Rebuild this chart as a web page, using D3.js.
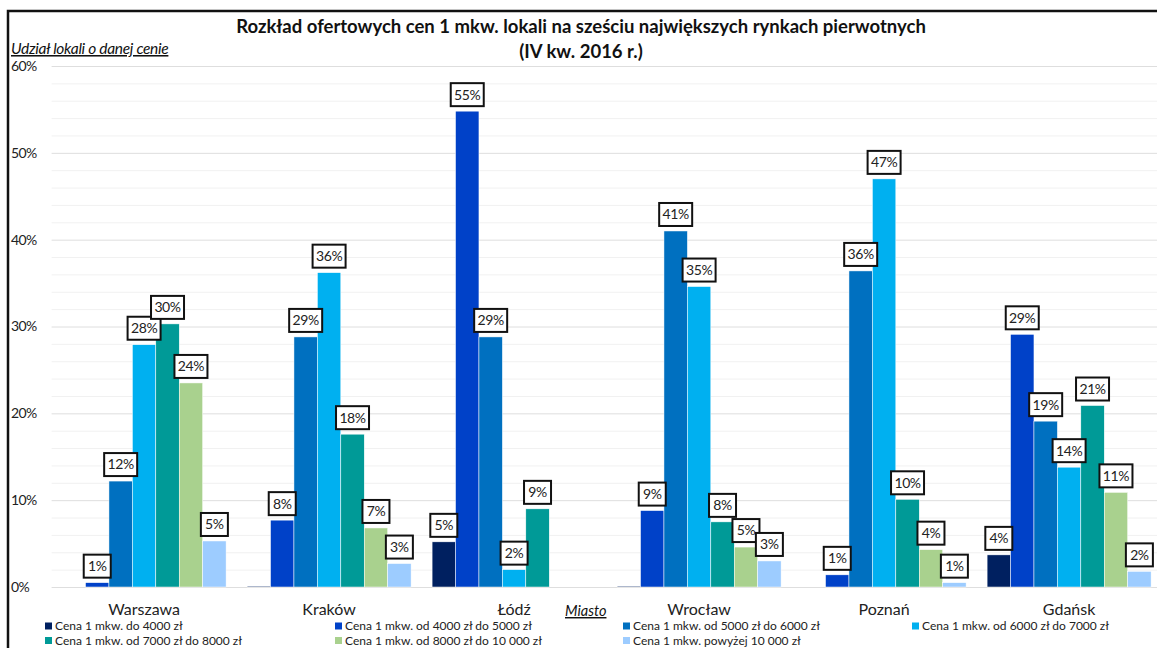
<!DOCTYPE html>
<html>
<head>
<meta charset="utf-8">
<script src="https://cdn.jsdelivr.net/npm/d3@7"></script>
<style>
  body { margin: 0; background: #fff; }
  svg { display: block; font-family: Lato, "Noto Sans", sans-serif; }
  .grid-minor line { stroke: #f1f1f1; }
  .grid-major line { stroke: #dedede; }
  .grid-minor path, .grid-major path { display: none; }
</style>
</head>
<body>
<svg id="chart" width="1157" height="648"></svg>
<script>
// data (percent)
const cities = ["Warszawa", "Kraków", "Łódź", "Wrocław", "Poznań", "Gdańsk"];
const seriesNames = [
  "Cena 1 mkw. do 4000 zł",
  "Cena 1 mkw. od 4000 zł do 5000 zł",
  "Cena 1 mkw. od 5000 zł do 6000 zł",
  "Cena 1 mkw. od 6000 zł do 7000 zł",
  "Cena 1 mkw. od 7000 zł do 8000 zł",
  "Cena 1 mkw. od 8000 zł do 10 000 zł",
  "Cena 1 mkw. powyżej 10 000 zł"
];
const colors = ["#002060", "#0041C8", "#0070C0", "#00B0F0", "#009A97", "#A9D18E", "#9DCCFF"];
// one array per city, in series order
const warszawa = [0, 0.5, 12.2, 27.9, 30.3, 23.5, 5.3];
const krakow   = [0.1, 7.7, 28.8, 36.2, 17.6, 6.8, 2.7];
const lodz     = [5.2, 54.8, 28.8, 2.0, 9.0, 0, 0];
const wroclaw  = [0.1, 8.8, 41.0, 34.6, 7.5, 4.6, 3.0];
const poznan   = [0, 1.4, 36.4, 47.0, 10.1, 4.3, 0.5];
const gdansk   = [3.7, 29.1, 19.1, 13.8, 20.9, 10.9, 1.8];
const cityValues = [warszawa, krakow, lodz, wroclaw, poznan, gdansk];
const yTicks = [0, 10, 20, 30, 40, 50, 60];

const svg = d3.select("#chart");

const x0 = 51.6, x1 = 1161.6, yBottom = 587, yTop = 66;

const xScale = d3.scaleBand()
  .domain(cities)
  .range([x0, x1])
  .paddingInner(0.1135)
  .paddingOuter(0.0567);

const xInner = d3.scaleBand()
  .domain(d3.range(seriesNames.length))
  .range([0, xScale.bandwidth()]);

const yScale = d3.scaleLinear()
  .domain([0, 60])
  .range([yBottom, yTop]);

// frame
svg.append("path")
  .attr("d", `M8,${648} L8,11 L1157,11`)
  .attr("fill", "none")
  .attr("stroke", "#111")
  .attr("stroke-width", 2.5);

// gridlines
svg.append("g")
  .attr("class", "grid-minor")
  .call(d3.axisLeft(yScale).tickValues(d3.range(2, 60, 2).filter(v => v % 10 !== 0))
    .tickSize(-(1157 - x0)).tickFormat(""))
  .attr("transform", `translate(${x0},0)`);

svg.append("g")
  .attr("class", "grid-major")
  .call(d3.axisLeft(yScale).tickValues(yTicks).tickSize(-(1157 - x0)).tickFormat(""))
  .attr("transform", `translate(${x0},0)`);

// y tick labels
svg.append("g").selectAll("text")
  .data(yTicks)
  .join("text")
  .attr("x", 11)
  .attr("y", d => yScale(d))
  .attr("dy", "0.35em")
  .attr("font-size", 14)
  .attr("letter-spacing", -0.6)
  .attr("fill", "#222")
  .text(d => d + "%");

// title
svg.append("text")
  .attr("x", 581).attr("y", 33)
  .attr("text-anchor", "middle")
  .attr("font-size", 18.5).attr("font-weight", "bold")
  .attr("fill", "#111")
  .text("Rozkład ofertowych cen 1 mkw. lokali na sześciu największych rynkach pierwotnych");
svg.append("text")
  .attr("x", 581).attr("y", 58)
  .attr("text-anchor", "middle")
  .attr("font-size", 18.5).attr("font-weight", "bold")
  .attr("fill", "#111")
  .text("(IV kw. 2016 r.)");

// axis titles
svg.append("text")
  .attr("x", 11).attr("y", 54)
  .attr("font-size", 15.5).attr("font-style", "italic")
  .attr("text-decoration", "underline")
  .attr("letter-spacing", -0.3)
  .attr("fill", "#111")
  .text("Udział lokali o danej cenie");

svg.append("text")
  .attr("x", 565).attr("y", 616)
  .attr("font-size", 14.5).attr("font-style", "italic")
  .attr("text-decoration", "underline")
  .attr("fill", "#111")
  .text("Miasto");

// bars
const groups = svg.append("g").selectAll("g")
  .data(cities)
  .join("g")
  .attr("transform", d => `translate(${xScale(d)},0)`);

groups.selectAll("rect")
  .data((d, i) => cityValues[i].map((v, s) => ({ v, s })))
  .join("rect")
  .attr("x", d => xInner(d.s))
  .attr("width", xInner.bandwidth())
  .attr("y", d => yScale(d.v))
  .attr("height", d => yBottom - yScale(d.v))
  .attr("fill", d => colors[d.s])
  .attr("stroke", "#fff")
  .attr("stroke-width", 0.5);

// boxed data labels
const labels = groups.selectAll("g.lbl")
  .data((d, i) => cityValues[i].map((v, s) => ({ v, s })).filter(d => d.v >= 0.5))
  .join("g")
  .attr("class", "lbl")
  .attr("transform", d => `translate(${xInner(d.s) + xInner.bandwidth() / 2},${yScale(d.v) - 5})`);

labels.each(function(d) {
  const g = d3.select(this);
  const txt = Math.round(d.v) + "%";
  const w = txt.length * 6 + 15;
  g.append("rect")
    .attr("x", -w / 2).attr("y", -23)
    .attr("width", w).attr("height", 23)
    .attr("fill", "#fff")
    .attr("stroke", "#111")
    .attr("stroke-width", 2);
  g.append("text")
    .attr("y", -11.5).attr("dy", "0.35em")
    .attr("text-anchor", "middle")
    .attr("font-size", 14)
    .attr("letter-spacing", -0.4)
    .attr("fill", "#222")
    .text(txt);
});

// category labels
svg.append("g").selectAll("text")
  .data(cities)
  .join("text")
  .attr("x", d => xScale(d) + xScale.bandwidth() / 2)
  .attr("y", 615)
  .attr("text-anchor", "middle")
  .attr("font-size", 16)
  .attr("fill", "#222")
  .text(d => d);

// legend
const legendCols = [45, 335, 623, 912];
const legend = svg.append("g").selectAll("g")
  .data(seriesNames)
  .join("g")
  .attr("transform", (d, i) => `translate(${legendCols[i % 4]},${i < 4 ? 626 : 640.5})`);

legend.append("rect")
  .attr("x", 0).attr("y", -3.5)
  .attr("width", 7).attr("height", 7)
  .attr("fill", (d, i) => colors[i]);

legend.append("text")
  .attr("x", 10).attr("dy", "0.35em")
  .attr("font-size", 12)
  .attr("fill", "#222")
  .text(d => d);
</script>
</body>
</html>
